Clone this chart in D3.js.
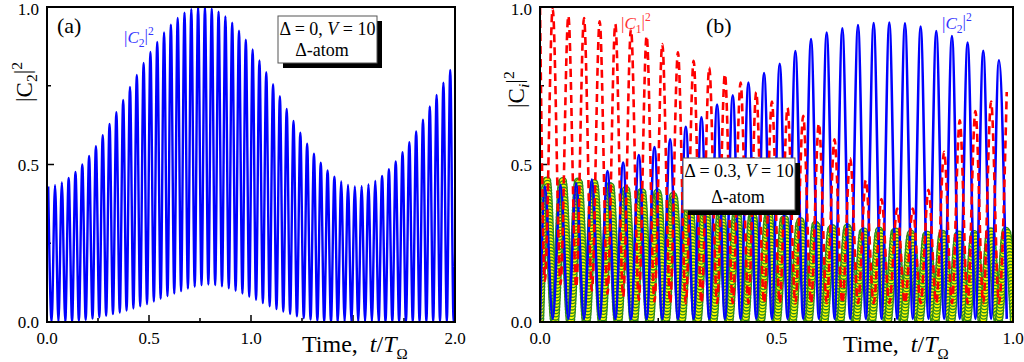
<!DOCTYPE html>
<html>
<head>
<meta charset="utf-8">
<script src="https://cdn.jsdelivr.net/npm/d3@7"></script>
<style>
  html, body { margin: 0; padding: 0; background: #fff; }
  svg { display: block; font-family: "Liberation Serif", "Times New Roman", serif; }
</style>
</head>
<body>
<svg id="chart" width="1024" height="362"></svg>
<script>
// ---- panel (a): |C2|^2, Delta = 0, V = 10 ----
// fast oscillation: period and first peak
const A_T0 = 0.006, A_PERIOD = 0.0334;
const aPeaks = [0.43, 0.434, 0.443, 0.457, 0.476, 0.50, 0.527, 0.558, 0.593, 0.629,
  0.666, 0.705, 0.746, 0.784, 0.822, 0.857, 0.889, 0.919, 0.944, 0.965,
  0.982, 0.993, 0.999, 1.0, 0.995, 0.985, 0.97, 0.95, 0.925, 0.896,
  0.865, 0.83, 0.793, 0.755, 0.717, 0.676, 0.638, 0.601, 0.566, 0.534,
  0.506, 0.481, 0.461, 0.446, 0.435, 0.43, 0.431, 0.437, 0.448, 0.464,
  0.485, 0.51, 0.539, 0.571, 0.605, 0.642, 0.684, 0.721, 0.76, 0.80, 0.83];
const aTroughs = [0.0, 0.0, 0.0, 0.002, 0.004, 0.007, 0.011, 0.015, 0.02, 0.025,
  0.03, 0.036, 0.043, 0.05, 0.057, 0.065, 0.074, 0.082, 0.09, 0.098,
  0.106, 0.112, 0.117, 0.119, 0.117, 0.113, 0.107, 0.099, 0.09, 0.08,
  0.07, 0.06, 0.05, 0.041, 0.033, 0.025, 0.018, 0.012, 0.008, 0.004,
  0.002, 0.0, 0.0, 0.0, 0.0, 0.0, 0.0, 0.0, 0.0, 0.0,
  0.0, 0.0, 0.0, 0.0, 0.0, 0.0, 0.0, 0.0, 0.0, 0.0];

// ---- panel (b): Delta = 0.3, V = 10 ----
const B_T0 = 0.0103, B_PERIOD = 0.0331;      // blue peaks / red troughs
const G_T0 = 0.014, G_PERIOD = 0.0335;       // green (circles) peaks
const bBluePeaks = [0.43, 0.435, 0.44, 0.452, 0.479, 0.506, 0.53, 0.555, 0.58, 0.62,
  0.65, 0.69, 0.72, 0.76, 0.79, 0.82, 0.86, 0.898, 0.919, 0.932,
  0.943, 0.949, 0.951, 0.948, 0.938, 0.924, 0.908, 0.887, 0.861, 0.831];
const bBlueTroughs = [0.01, 0.01, 0.01, 0.01, 0.01, 0.01, 0.01, 0.01, 0.01, 0.01,
  0.01, 0.01, 0.01, 0.01, 0.01, 0.01, 0.01, 0.01, 0.01, 0.01,
  0.01, 0.01, 0.01, 0.01, 0.01, 0.01, 0.01, 0.01, 0.01, 0.01];
const bRedTroughs = [0.13, 0.12, 0.11, 0.10, 0.09, 0.08, 0.07, 0.065, 0.06, 0.06,
  0.06, 0.06, 0.06, 0.06, 0.06, 0.06, 0.06, 0.06, 0.06, 0.06,
  0.06, 0.06, 0.06, 0.06, 0.06, 0.06, 0.06, 0.06, 0.06, 0.06];
const bRedPeaks = [0.994, 0.972, 0.965, 0.955, 0.946, 0.93, 0.908, 0.882, 0.856, 0.829,
  0.808, 0.787, 0.76, 0.73, 0.70, 0.68, 0.655, 0.63, 0.58, 0.52,
  0.45, 0.39, 0.36, 0.36, 0.42, 0.54, 0.64, 0.67, 0.70, 0.73];
const bGreenPeaks = [0.452, 0.45, 0.448, 0.44, 0.435, 0.42, 0.416, 0.41, 0.40, 0.38,
  0.37, 0.35, 0.35, 0.34, 0.34, 0.33, 0.32, 0.31, 0.30, 0.30,
  0.29, 0.29, 0.29, 0.28, 0.28, 0.28, 0.28, 0.28, 0.29, 0.29];
const bGreenTroughs = [0.0, 0.0, 0.0, 0.0, 0.0, 0.0, 0.0, 0.0, 0.0, 0.0,
  0.0, 0.0, 0.0, 0.0, 0.0, 0.0, 0.0, 0.0, 0.0, 0.0,
  0.0, 0.0, 0.0, 0.0, 0.0, 0.0, 0.0, 0.0, 0.0, 0.0];

const yTicks = [0, 0.5, 1.0];
const yMinor = [0.25, 0.75];
const aXTicks = [0, 0.5, 1.0, 2.0];          // 1.5 label is hidden under the title
const aXMinor = [0.25, 0.5, 0.75, 1.0, 1.25, 1.5, 1.75];
const bXTicks = [0, 0.5, 1.0];
const bXMinor = [0.25, 0.5, 0.75];

const svg = d3.select("#chart");

// alternating extrema: first[k] at t0 + k*p, second[k] at t0 + (k+0.5)*p
function extrema(t0, p, first, second, start) {
  const pts = start ? [start] : [];
  first.forEach((v, k) => {
    pts.push([t0 + k * p, v]);
    if (second[k] !== undefined) pts.push([t0 + (k + 0.5) * p, second[k]]);
  });
  return pts;
}

function frame(id, x, y, xTicks, xMinor) {
  const [x0, x1] = x.range(), [y0, y1] = y.range();
  svg.append("clipPath").attr("id", id).append("rect")
    .attr("x", x0).attr("y", y1).attr("width", x1 - x0).attr("height", y0 - y1);

  // inward ticks
  const tk = svg.append("g").attr("stroke", "#000").attr("stroke-width", 1.5);
  xMinor.forEach(t => {
    const len = (t * 2) % 1 === 0 ? 7 : 4;
    tk.append("line").attr("x1", x(t)).attr("x2", x(t)).attr("y1", y0).attr("y2", y0 - len);
  });
  yMinor.concat([0.5]).forEach(v => {
    const len = v === 0.5 ? 7 : 4;
    tk.append("line").attr("x1", x0).attr("x2", x0 + len).attr("y1", y(v)).attr("y2", y(v));
  });

  // tick labels
  const lab = svg.append("g").attr("font-size", 17).attr("fill", "#000");
  yTicks.forEach(v => {
    lab.append("text").attr("x", x0 - 8).attr("y", Math.max(y(v) + 6, 15))
      .attr("text-anchor", "end").text(v.toFixed(1));
  });
  xTicks.forEach(t => {
    lab.append("text").attr("x", x(t)).attr("y", 344)
      .attr("text-anchor", "middle").text(t.toFixed(1));
  });
}

function border(x, y) {
  const [x0, x1] = x.range(), [y0, y1] = y.range();
  svg.append("rect").attr("x", x0).attr("y", y1).attr("width", x1 - x0).attr("height", y0 - y1)
    .attr("fill", "none").attr("stroke", "#000").attr("stroke-width", 2);
}

// |C_sub|^2 label built from tspans
function absLabel(sel, sub, italicC) {
  sel.append("tspan").text("|");
  sel.append("tspan").attr("font-style", italicC ? "italic" : null).text("C");
  sel.append("tspan").attr("font-size", "0.68em").attr("dy", "0.32em")
    .attr("font-style", sub === "i" ? "italic" : null).text(sub);
  sel.append("tspan").attr("dy", "-0.32em").text("|");
  sel.append("tspan").attr("font-size", "0.68em").attr("dy", "-0.5em").text("2");
}

function timeTitle(x, y) {
  const t = svg.append("text").attr("x", x).attr("y", y).attr("font-size", 24).attr("fill", "#000");
  t.append("tspan").text("Time,\u00a0\u00a0");
  t.append("tspan").attr("font-style", "italic").text("t");
  t.append("tspan").text("/");
  t.append("tspan").attr("font-style", "italic").text("T");
  t.append("tspan").attr("font-size", 15).attr("dy", 7).text("Ω");
}

function infoBox(x, y, w, h, line1, cx) {
  svg.append("rect").attr("x", x + 5).attr("y", y + 5).attr("width", w).attr("height", h).attr("fill", "#000");
  svg.append("rect").attr("x", x).attr("y", y).attr("width", w).attr("height", h)
    .attr("fill", "#fff").attr("stroke", "#555").attr("stroke-width", 1);
  const t1 = svg.append("text").attr("x", x + w / 2).attr("y", y + 19).attr("text-anchor", "middle")
    .attr("font-size", 18);
  t1.append("tspan").text("Δ = " + line1 + ", ");
  t1.append("tspan").attr("font-style", "italic").text("V");
  t1.append("tspan").text(" = 10");
  svg.append("text").attr("x", cx).attr("y", y + h - 7).attr("text-anchor", "middle")
    .attr("font-size", 18).text("Δ-atom");
}

// ================= panel (a) =================
const xa = d3.scaleLinear().domain([0, 2]).range([47, 455]);
const ya = d3.scaleLinear().domain([0, 1]).range([322, 7]);
frame("clip-a", xa, ya, aXTicks, aXMinor);

const lineA = d3.line().x(d => xa(d[0])).y(d => ya(d[1])).curve(d3.curveMonotoneX);
svg.append("path")
  .datum(extrema(A_T0, A_PERIOD, aPeaks, aTroughs))
  .attr("clip-path", "url(#clip-a)")
  .attr("d", lineA)
  .attr("fill", "none").attr("stroke", "#0000ff").attr("stroke-width", 2.4);

border(xa, ya);
svg.append("text").attr("x", 57).attr("y", 33).attr("font-size", 22).text("(a)");
absLabel(svg.append("text").attr("x", 124).attr("y", 43).attr("font-size", 17).attr("fill", "#3333ff"), "2", true);
infoBox(278, 16, 99, 47, "0", 322);
absLabel(svg.append("text").attr("transform", "translate(32,102) rotate(-90)")
  .attr("font-size", 23).attr("fill", "#000"), "2", false);
timeTitle(302, 352);

// ================= panel (b) =================
const xb = d3.scaleLinear().domain([0, 1]).range([540, 1013]);
const yb = d3.scaleLinear().domain([0, 1]).range([322, 7]);
frame("clip-b", xb, yb, bXTicks, bXMinor);

const lineB = d3.line().x(d => xb(d[0])).y(d => yb(d[1])).curve(d3.curveMonotoneX);
const plotB = svg.append("g").attr("clip-path", "url(#clip-b)");

// green circles: markers spread along the curve
const greenPath = plotB.append("path")
  .datum(extrema(G_T0, G_PERIOD, bGreenPeaks, bGreenTroughs, [0, 0]))
  .attr("d", lineB).attr("fill", "none").attr("stroke", "none");
const gNode = greenPath.node(), gLen = gNode.getTotalLength();
const marks = d3.range(0, gLen, 3.2).map(s => gNode.getPointAtLength(s));
plotB.append("g").selectAll("circle").data(marks).join("circle")
  .attr("cx", d => d.x).attr("cy", d => d.y).attr("r", 3.6)
  .attr("fill", "#ffff00").attr("stroke", "#2e8b1e").attr("stroke-width", 1.4);

plotB.append("path")
  .datum(extrema(B_T0, B_PERIOD, bBluePeaks, bBlueTroughs, [0, 0]))
  .attr("d", lineB).attr("fill", "none").attr("stroke", "#0000ff").attr("stroke-width", 2.6);

plotB.append("path")
  .datum(extrema(B_T0, B_PERIOD, bRedTroughs, bRedPeaks, [0, 1]))
  .attr("d", lineB).attr("fill", "none").attr("stroke", "#ff0000").attr("stroke-width", 2.6)
  .attr("stroke-dasharray", "8,5");

border(xb, yb);
svg.append("text").attr("x", 706).attr("y", 33).attr("font-size", 22).text("(b)");
absLabel(svg.append("text").attr("x", 621).attr("y", 29).attr("font-size", 17).attr("fill", "#ff3333"), "1", true);
absLabel(svg.append("text").attr("x", 942).attr("y", 29).attr("font-size", 17).attr("fill", "#3333ff"), "2", true);
infoBox(683, 158, 112, 52, "0.3", 738);
absLabel(svg.append("text").attr("transform", "translate(524,108) rotate(-90)")
  .attr("font-size", 23).attr("fill", "#000"), "i", false);
timeTitle(843, 352);
</script>
</body>
</html>
